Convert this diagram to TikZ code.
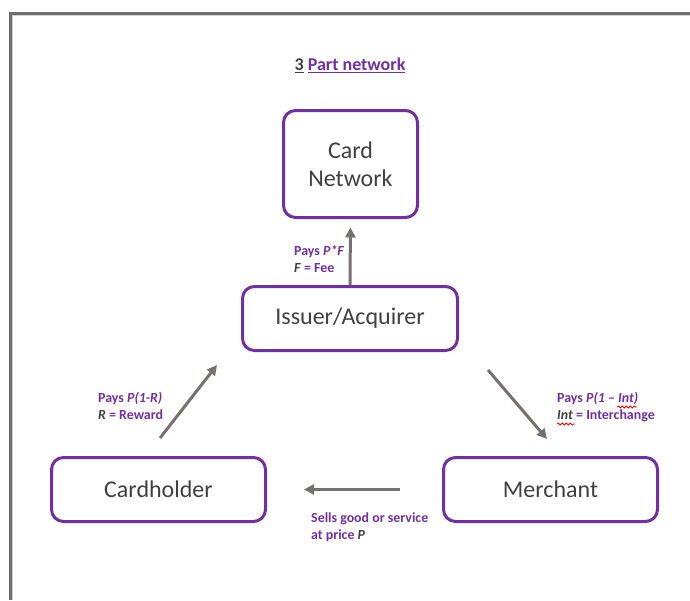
\documentclass[tikz,border=0pt]{standalone}
\usepackage{fontspec}
\setmainfont{Carlito}
\usetikzlibrary{arrows.meta}
\usetikzlibrary{decorations.pathmorphing}
\definecolor{netpurple}{RGB}{112,48,160}
\definecolor{netgray}{RGB}{118,113,113}
\definecolor{boxtext}{RGB}{64,64,64}
\definecolor{framegray}{RGB}{110,110,110}

\begin{document}
\begin{tikzpicture}[x=1pt,y=-1pt,
	party/.style={rectangle,rounded corners=12pt,draw=netpurple,line width=3pt,text=boxtext,align=center,inner sep=0pt,font=\fontsize{24}{28}\selectfont},
	flow/.style={draw=netgray,line width=3pt,-{Triangle[length=10pt,width=10pt]}},
	note/.style={anchor=north west,inner sep=0pt,align=left,text=netpurple,font=\fontsize{13.9}{17}\selectfont\bfseries},
	wavy/.style={draw=red,line width=0.8pt,decorate,decoration={snake,amplitude=1pt,segment length=4pt}}]
			\useasboundingbox (0,0) rectangle (690,600);
			% page frame
			\draw[gray!35, line width=1pt] (690,15.5) -- (12.5,15.5) -- (12.5,600);
			\draw[framegray, line width=3pt] (690,13) -- (10,13) -- (10,600);
			\node[font=\fontsize{18}{21}\selectfont\bfseries] (title) at (350,65.5) {{\color{boxtext}\underline{3}} {\color{netpurple}\underline{Part network}}};
			\node[party, minimum width=134pt, minimum height=107pt] (cn) at (350.5,164) {Card\\Network};
			\node[party, minimum width=215pt, minimum height=64pt] (ia) at (350,318.5) {Issuer/Acquirer\rule[-1.5pt]{0pt}{1pt}};
			\node[party, minimum width=214pt, minimum height=64pt] (ch) at (158.5,489.5) {Cardholder\rule[-1.5pt]{0pt}{1pt}};
			\node[party, minimum width=214pt, minimum height=64pt] (mc) at (550.5,489.5) {Merchant\rule[-1.5pt]{0pt}{1pt}};
			\coordinate (chout) at (160,438);
			\coordinate (iain) at (217,365);
			\coordinate (iaout) at (488,370);
			\coordinate (mcin) at (547,439);
			\draw[flow, shorten >=8.5pt] (ia.north) -- (cn.south);
			\draw[flow] (chout) -- (iain);
			\draw[flow] (iaout) -- (mcin);
			\draw[flow, shorten <=42pt, shorten >=37pt] (mc.west) -- (ch.east);
			\node[note] (lfee) at (294,245) {Pays \textit{P*F}\\\textcolor{boxtext}{\textit{F}} = Fee};
			\node[note] (lrew) at (98,391.5) {Pays \textit{P(1-R)}\\\textcolor{boxtext}{\textit{R}} = Reward};
			\node[note] (lint) at (557,391.5) {Pays \textit{P(1 – Int)}\\\textcolor{boxtext}{\textit{Int}} = Interchange};
			\node[note] (lsel) at (311,513) {Sells good or service\\at price \textcolor{boxtext}{\textit{P}}};
			\draw[wavy] (617,407) -- (637,407);
			\draw[wavy] (557,424) -- (575,424);
		\end{tikzpicture}
\end{document}
